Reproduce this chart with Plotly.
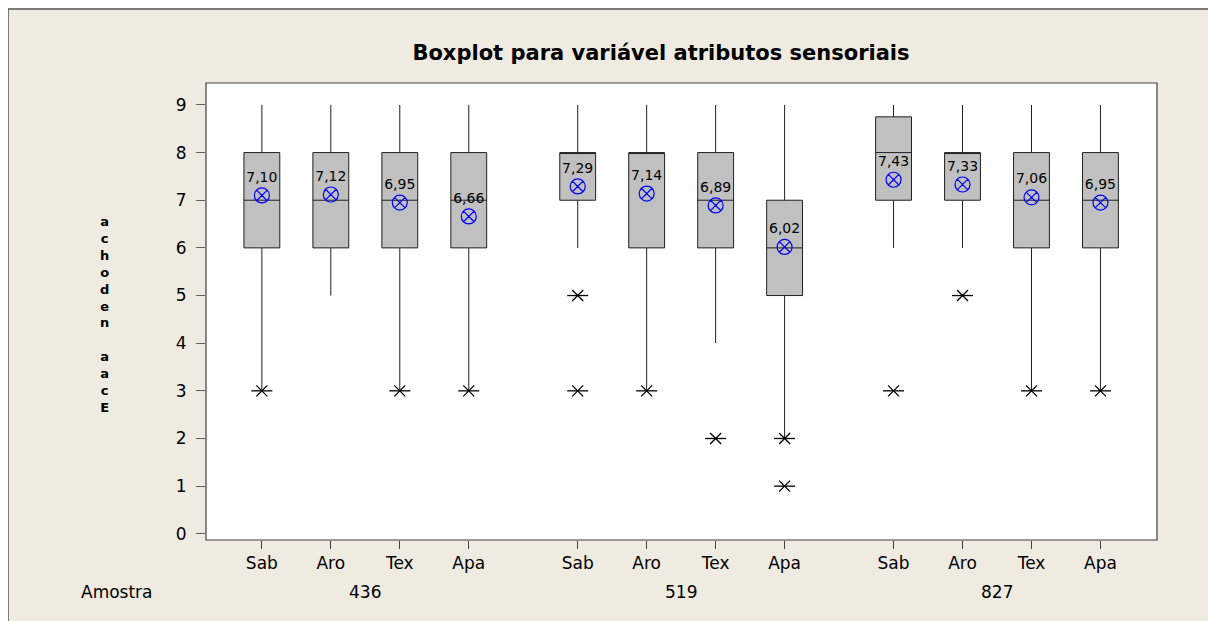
import plotly.graph_objects as go

# ---- data ----
groups = ["436", "519", "827"]
attributes = ["Sab", "Aro", "Tex", "Apa"]
lower_whisker = [3, 5, 3, 3,   6, 3, 4, 2,   6, 6, 3, 3]
q1_values     = [6, 6, 6, 6,   7, 6, 6, 5,   7, 7, 6, 6]
medians       = [7, 7, 7, 7,   8, 8, 7, 6,   8, 8, 7, 7]
q3_values     = [8, 8, 8, 8,   8, 8, 8, 7,   8.75, 8, 8, 8]
upper_whisker = [9, 9, 9, 9,   9, 9, 9, 9,   9, 9, 9, 9]
means         = [7.10, 7.12, 6.95, 6.66, 7.29, 7.14, 6.89, 6.02, 7.43, 7.33, 7.06, 6.95]
outliers      = [[3], [], [3], [3],  [5, 3], [3], [2], [2, 1],  [3], [5], [3], [3]]
y_ticks = [0, 1, 2, 3, 4, 5, 6, 7, 8, 9]
y_label_chars = ["a", "c", "h", "o", "d", "e", "n", " ", "a", "a", "c", "E"]

# ---- layout helpers (reference pixel coords; the figure sits 8px from top-left) ----
OFF = 8
W, H = 1208 - OFF, 621 - OFF
L, R, T, B = 206 - OFF, 1157 - OFF, 83 - OFF, 540 - OFF
group_step = 4.58
positions = [g * group_step + j for g in range(len(groups)) for j in range(len(attributes))]
tick_labels = [a for _ in groups for a in attributes]
x_range = [-0.81, 12.98]
y_range = [-0.13, 9.46]

def px_x(px):
    return (px - OFF - L) / (R - L)

def px_y(py):
    return (B - (py - OFF)) / (B - T)

FONT = "DejaVu Sans"
fig = go.Figure()

for i, pos in enumerate(positions):
    fig.add_trace(go.Box(
        x=[pos], q1=[q1_values[i]], median=[medians[i]], q3=[q3_values[i]],
        lowerfence=[lower_whisker[i]], upperfence=[upper_whisker[i]],
        width=0.52, whiskerwidth=0, boxpoints=False,
        fillcolor="#C0C0C0", line=dict(color="#202020", width=1),
        showlegend=False, hoverinfo="skip",
    ))

# outliers (6-armed asterisk: X plus horizontal bar)
ox, oy = [], []
for pos, outs in zip(positions, outliers):
    for v in outs:
        ox.append(pos)
        oy.append(v)
fig.add_trace(go.Scatter(
    x=ox, y=oy, mode="markers",
    marker=dict(symbol="x-thin-open", size=11, color="black", line=dict(color="black", width=1.3)),
    showlegend=False, hoverinfo="skip",
))
fig.add_trace(go.Scatter(
    x=ox, y=oy, mode="markers",
    marker=dict(symbol="line-ew-open", size=15, color="black", line=dict(color="black", width=1.3)),
    showlegend=False, hoverinfo="skip",
))

# means
fig.add_trace(go.Scatter(
    x=positions, y=means, mode="markers+text",
    marker=dict(symbol="circle-x-open", size=15, color="#0000FF", line=dict(color="#0000FF", width=1.2)),
    text=[f"{m:.2f}".replace(".", ",") for m in means],
    textposition="top center",
    textfont=dict(family=FONT, size=14, color="black"),
    showlegend=False, hoverinfo="skip",
))

shapes = [
    # outer frame
    dict(type="rect", xref="paper", yref="paper",
         x0=px_x(8), x1=px_x(1240), y0=px_y(9), y1=px_y(660),
         line=dict(color="#555555", width=1.5), fillcolor="rgba(0,0,0,0)", layer="below"),
    # plot frame
    dict(type="rect", xref="paper", yref="paper", x0=0, x1=1, y0=0, y1=1,
         line=dict(color="#404040", width=1.2), fillcolor="rgba(0,0,0,0)"),
]

annotations = [
    dict(text="Amostra", x=px_x(117), y=px_y(592), xref="paper", yref="paper",
         xanchor="center", yanchor="middle",
         showarrow=False, font=dict(family=FONT, size=17, color="black")),
    dict(text="<b>" + "<br>".join(y_label_chars) + "</b>", x=px_x(104), y=px_y(314),
         xref="paper", yref="paper", xanchor="center", yanchor="middle", align="center",
         showarrow=False, font=dict(family=FONT, size=13, color="black")),
]
for g, name in enumerate(groups):
    center = g * group_step + 1.5
    annotations.append(dict(text=name, x=center, y=px_y(592), xref="x", yref="paper",
                            xanchor="center", yanchor="middle",
                            showarrow=False, font=dict(family=FONT, size=17, color="black")))

fig.update_layout(
    width=W, height=H,
    margin=dict(l=L, r=W - R, t=T, b=H - B),
    paper_bgcolor="#EFEBE1",
    plot_bgcolor="white",
    title=dict(text="<b>Boxplot para variável atributos sensoriais</b>",
               x=(661 - OFF) / W, xanchor="center",
               y=1 - (53 - OFF) / H, yanchor="middle",
               font=dict(family=FONT, size=21, color="black")),
    xaxis=dict(range=x_range, tickmode="array", tickvals=positions, ticktext=tick_labels,
               showgrid=False, zeroline=False, ticks="outside", ticklen=8,
               tickcolor="#404040", tickfont=dict(family=FONT, size=17, color="black"),
               showline=False),
    yaxis=dict(range=y_range, tickmode="array", tickvals=y_ticks,
               showgrid=False, zeroline=False, ticks="outside", ticklen=9,
               tickcolor="#606060", tickfont=dict(family=FONT, size=17, color="black"),
               ticklabelstandoff=6, showline=False),
    shapes=shapes,
    annotations=annotations,
    font=dict(family=FONT),
)

fig.write_html(
    "out.html",
    post_script="document.body.style.margin='8px 0 0 8px';document.body.style.overflow='hidden';",
)
